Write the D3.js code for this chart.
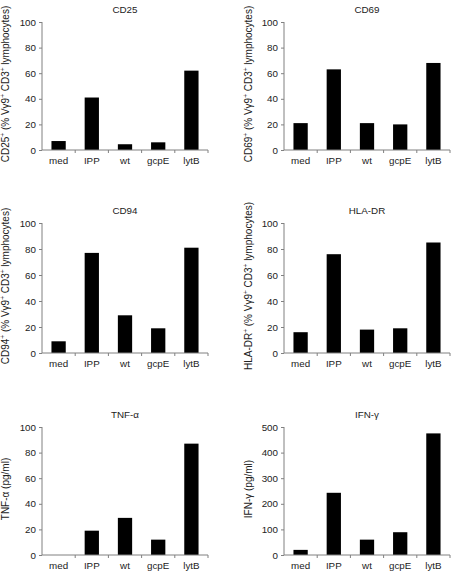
<!DOCTYPE html>
<html><head><meta charset="utf-8">
<script src="https://cdn.jsdelivr.net/npm/d3@7"></script>
<style>
body{margin:0;background:#fff;}
svg{display:block;font-family:"Liberation Sans",Arial,sans-serif;}
</style></head>
<body><div id="chart"></div>
<script>
const categories = ["med","IPP","wt","gcpE","lytB"];
const titles = ["CD25","CD69","CD94","HLA-DR","TNF-\u03b1","IFN-\u03b3"];
const cd25 = [7, 41, 4.5, 6, 62];
const cd69 = [21, 63, 21, 20, 68];
const cd94 = [9, 77, 29, 19, 81];
const hladr = [16, 76, 18, 19, 85];
const tnf = [0, 19, 29, 12, 87];
const ifn = [20, 243, 60, 89, 475];
const pctTicks = [0,20,40,60,80,100];
const ifnTicks = [0,100,200,300,400,500];
// y-axis label parts: [text, superscript?]
const yLabels = [
  [["CD25",0],["+",1],[" (% V\u03b39",0],["+",1],[" CD3",0],["+",1],[" lymphocytes)",0]],
  [["CD69",0],["+",1],[" (% V\u03b39",0],["+",1],[" CD3",0],["+",1],[" lymphocytes)",0]],
  [["CD94",0],["+",1],[" (% V\u03b39",0],["+",1],[" CD3",0],["+",1],[" lymphocytes)",0]],
  [["HLA-DR",0],["+",1],[" (% V\u03b39",0],["+",1],[" CD3",0],["+",1],[" lymphocytes)",0]],
  [["TNF-\u03b1 (pg/ml)",0]],
  [["IFN-\u03b3 (pg/ml)",0]]
];
const seriesList = [cd25, cd69, cd94, hladr, tnf, ifn];
const tickList = [pctTicks, pctTicks, pctTicks, pctTicks, pctTicks, ifnTicks];

const W = 453, H = 572;
const svg = d3.select("#chart").append("svg").attr("width", W).attr("height", H);

// layout
const colX = [42, 284];
const rowTop = [22, 223, 427];
const rowH = [128, 130, 128];
const plotW = 166;
const axisColor = "#808080";

seriesList.forEach((vals, i) => {
  const col = i % 2, row = Math.floor(i / 2);
  const ticks = tickList[i];
  const g = svg.append("g").attr("transform", `translate(${colX[col]},${rowTop[row]})`);
  const h = rowH[row];
  const x = d3.scaleBand().domain(categories).range([0, plotW]);
  const y = d3.scaleLinear().domain([0, d3.max(ticks)]).range([h, 0]);

  // bars
  const bw = x.bandwidth() * 0.43;
  g.selectAll("rect.bar").data(vals).join("rect")
    .attr("class","bar")
    .attr("x", (d, j) => x(categories[j]) + x.bandwidth()/2 - bw/2)
    .attr("width", bw)
    .attr("y", d => y(d))
    .attr("height", d => h - y(d))
    .attr("fill", "#000");

  // y axis
  const ya = g.append("g").call(d3.axisLeft(y).tickValues(ticks).tickSize(3).tickPadding(3).tickFormat(d3.format("d")));
  ya.select(".domain").attr("stroke", axisColor).attr("d", `M0,${h}V0`);
  ya.selectAll(".tick line").attr("stroke", axisColor);
  ya.selectAll(".tick text").attr("font-size", 9.8).attr("fill", "#222").attr("font-family","Liberation Sans, Arial, sans-serif");

  // x axis: ticks between bands
  const xa = g.append("g").attr("transform", `translate(0,${h})`);
  xa.append("line").attr("x1", 0).attr("x2", plotW).attr("y1", 0).attr("y2", 0).attr("stroke", axisColor);
  const bounds = categories.map(c => x(c) + x.bandwidth());
  xa.selectAll("line.xt").data(bounds).join("line").attr("class","xt")
    .attr("x1", d => d).attr("x2", d => d).attr("y1", 0).attr("y2", 3).attr("stroke", axisColor);
  xa.selectAll("text").data(categories).join("text")
    .attr("x", d => x(d) + x.bandwidth()/2).attr("y", 14)
    .attr("text-anchor","middle").attr("font-size", 9.8).attr("fill","#222")
    .text(d => d);

  // title
  g.append("text").attr("x", plotW/2).attr("y", -9).attr("text-anchor","middle")
    .attr("font-size", 9.8).attr("fill","#222").text(titles[i]);

  // y label
  const lx = col === 0 ? -33 : -32;
  const lt = g.append("text").attr("transform", `translate(${lx},${h/2 - 2}) rotate(-90)`)
    .attr("text-anchor","middle").attr("font-size", 10).attr("fill","#222");
  yLabels[i].forEach(([t, sup], k) => {
    const ts = lt.append("tspan").text(t);
    if (sup) ts.attr("font-size", 6.5).attr("dy", -4);
    else if (k > 0 && yLabels[i][k-1][1]) ts.attr("dy", 4);
  });
});
</script>
</body></html>
